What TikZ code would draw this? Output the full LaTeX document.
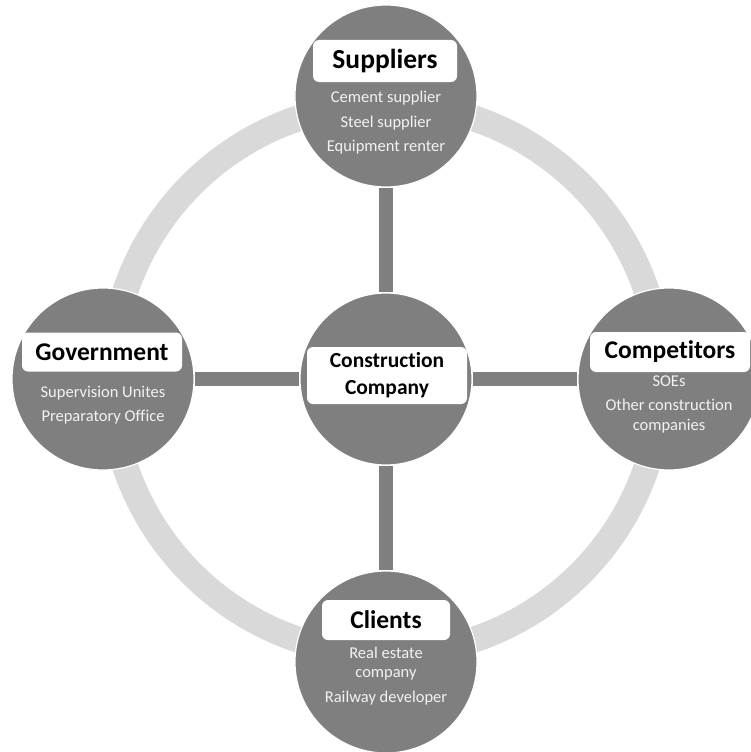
\documentclass[tikz,border=0pt]{standalone}
\usepackage{fontspec}
\setmainfont{Carlito}[Ligatures={NoCommon,NoContextual}]
\newcommand{\nolig}{\kern0pt}% keeps t and i apart
\definecolor{discgray}{HTML}{7F7F7F}
\definecolor{ringgray}{HTML}{D9D9D9}
\definecolor{itemwhite}{HTML}{F2F2F2}
\tikzset{
  ring/.style={draw=ringgray, line width=26pt},
  hub/.style={circle, fill=discgray, draw=white, line width=1.2pt, minimum size=172pt, inner sep=0pt},
  sat/.style={circle, fill=discgray, draw=white, line width=1.2pt, minimum size=182pt, inner sep=0pt},
  tag/.style={fill=white, rounded corners=6pt, inner sep=0pt, text=black, align=center,
              font=\bfseries\fontsize{25.5}{27}\selectfont},
  items/.style={align=center, text=itemwhite, inner sep=0pt, font=\fontsize{16.5}{19.5}\selectfont},
  spoke/.style={draw=white, line width=0.8pt, double=discgray, double distance=14pt},
}
\begin{document}
\begin{tikzpicture}[x=1pt, y=-1pt]
  \useasboundingbox (0,0) rectangle (751,752);
  \clip (0,0) rectangle (751,752);
  \coordinate (C) at (386,379);

  % outer ring linking the four partners
  \draw[ring] (C) circle (275);

  % discs
  \node[hub] (hub) at (C) {};
  \node[sat] (sup) at (386,96) {};
  \node[sat] (gov) at (103,379) {};
  \node[sat] (com) at (669,379) {};
  \node[sat] (cli) at (386,662) {};

  % spokes from the company to each partner
  \draw[spoke] (hub) -- (sup);
  \draw[spoke] (hub) -- (gov);
  \draw[spoke] (hub) -- (com);
  \draw[spoke] (hub) -- (cli);

  % title tags
  \node[tag, minimum width=144pt, minimum height=42pt, font=\bfseries\fontsize{27.5}{29}\selectfont] (supT) at (385,61) {Suppliers};
  \node[tag, minimum width=160pt, minimum height=39pt] (govT) at (102,352) {Government};
  \node[tag, minimum width=160pt, minimum height=40pt] (comT) at (670,352) {Compet\nolig itors};
  \node[tag, minimum width=128pt, minimum height=40pt] (cliT) at (386,620) {Clients};
  \node[tag, minimum width=160pt, minimum height=57pt, font=\bfseries\fontsize{21.5}{27}\selectfont] (hubT) at (387,375.5) {Construct\nolig ion\\Company};

  % member lists
  \node[items] (supL) at (386,123) {Cement supplier\\[5pt]Steel supplier\\[5pt]Equipment renter};
  \node[items] (govL) at (103,405) {Supervision Unites\\[5pt]Preparatory Office};
  \node[items] (comL) at (669,404) {SOEs\\[5pt]Other construct\nolig ion\\companies};
  \node[items] (cliL) at (386,676) {Real estate\\company\\[5pt]Railway developer};
\end{tikzpicture}
\end{document}
